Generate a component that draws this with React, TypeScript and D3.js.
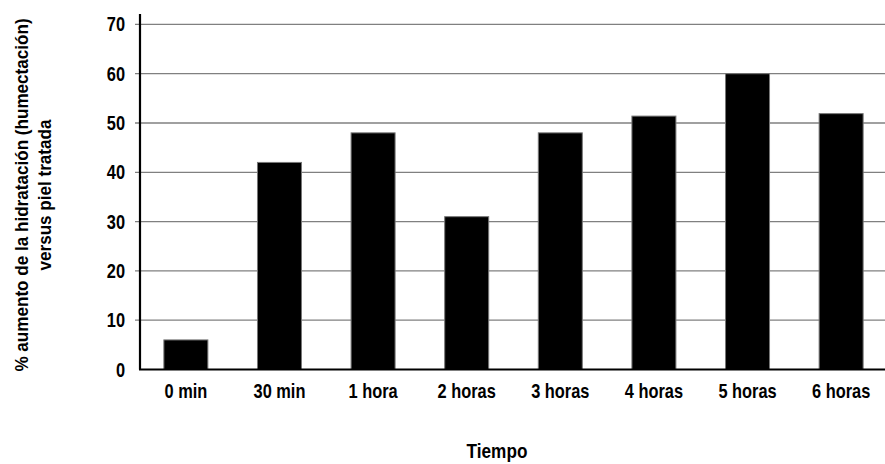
import * as d3 from 'd3'
import { useEffect, useRef } from 'react'

const categories = ['0 min', '30 min', '1 hora', '2 horas', '3 horas', '4 horas', '5 horas', '6 horas']
const values = [6, 42, 48, 31, 48, 51.4, 60, 51.9]
const yTicks = [0, 10, 20, 30, 40, 50, 60, 70]
const yTitle = ['% aumento de la hidratación (humectación)', 'versus piel tratada']
const xTitle = 'Tiempo'

const W = 885
const H = 464
const font = '"Liberation Sans", Arial, sans-serif'
const squeeze = 0.82

export default function App() {
    const svgRef = useRef(null) as any

    useEffect(() => {
        const svg = d3.select(svgRef.current)
        svg.selectAll('*').remove()

        const left = 140
        const right = 885
        const top = 24.4
        const bottom = 369.5

        const yScale = d3.scaleLinear().domain([0, 70]).range([bottom, top])
        const xScale = d3.scaleBand()
            .domain(categories)
            .range([140, 887])
            .paddingInner(0.53)
            .paddingOuter(0.255)

        // grid lines
        svg.append('g')
            .selectAll('line')
            .data(yTicks.filter(d => d > 0))
            .join('line')
            .attr('x1', left - 5)
            .attr('x2', right)
            .attr('y1', d => yScale(d))
            .attr('y2', d => yScale(d))
            .attr('stroke', '#808080')
            .attr('stroke-width', 1.3)

        // bars
        svg.append('g')
            .selectAll('rect')
            .data(values)
            .join('rect')
            .attr('x', (d, i) => xScale(categories[i]) as number)
            .attr('y', d => yScale(d))
            .attr('width', xScale.bandwidth())
            .attr('height', d => bottom - yScale(d))
            .attr('fill', '#000')
            .attr('stroke', '#777')
            .attr('stroke-width', 1)

        // axes
        svg.append('line')
            .attr('x1', left).attr('x2', left)
            .attr('y1', 14).attr('y2', bottom)
            .attr('stroke', '#000').attr('stroke-width', 2.2)
        svg.append('line')
            .attr('x1', left - 1).attr('x2', right)
            .attr('y1', bottom).attr('y2', bottom)
            .attr('stroke', '#000').attr('stroke-width', 2.2)

        // y tick labels
        svg.append('g')
            .selectAll('text')
            .data(yTicks)
            .join('text')
            .attr('transform', d => `translate(125,${yScale(d) + 7}) scale(${squeeze},1)`)
            .attr('text-anchor', 'end')
            .style('font-family', font)
            .style('font-weight', 'bold')
            .style('font-size', '20px')
            .text(d => d)

        // x tick labels
        svg.append('g')
            .selectAll('text')
            .data(categories)
            .join('text')
            .attr('transform', d => `translate(${(xScale(d) as number) + xScale.bandwidth() / 2},398) scale(${squeeze},1)`)
            .attr('text-anchor', 'middle')
            .style('font-family', font)
            .style('font-weight', 'bold')
            .style('font-size', '20px')
            .text(d => d)

        svg.append('text')
            .attr('transform', `translate(497,458) scale(0.86,1)`)
            .attr('text-anchor', 'middle')
            .style('font-family', font)
            .style('font-weight', 'bold')
            .style('font-size', '20px')
            .text(xTitle)

        svg.append('g')
            .selectAll('text')
            .data(yTitle)
            .join('text')
            .attr('transform', (d, i) => `translate(${28 + i * 23},195) rotate(-90) scale(0.9,1)`)
            .attr('text-anchor', 'middle')
            .style('font-family', font)
            .style('font-weight', 'bold')
            .style('font-size', '19px')
            .text(d => d)
    }, [])

    return (
        <svg ref={svgRef} width={W} height={H}
            style={{ position: 'absolute', left: 0, top: 0, background: '#fff' }} />
    )
}
